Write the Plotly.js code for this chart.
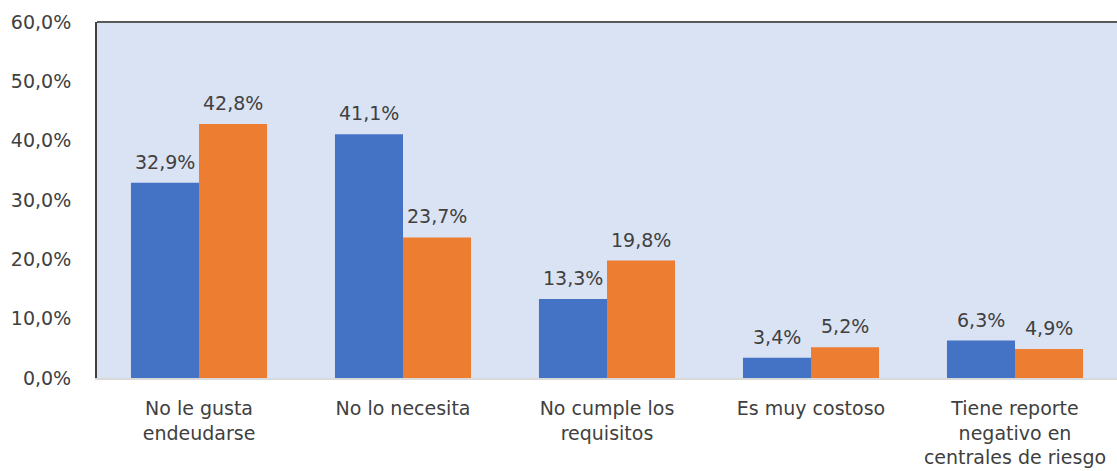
<!DOCTYPE html>
<html>
<head>
<meta charset="utf-8">
<script src="https://cdn.plot.ly/plotly-3.0.1.min.js"></script>
<style>html,body{margin:0;padding:0;background:#fff;}#chart{width:1117px;height:471px;}</style>
</head>
<body>
<div id="chart"></div>
<script>
const categories = ["No le gusta<br>endeudarse", "No lo necesita", "No cumple los<br>requisitos", "Es muy costoso", "Tiene reporte<br>negativo en<br>centrales de riesgo"];
const seriesA = [32.9, 41.1, 13.3, 3.4, 6.3];
const seriesB = [42.8, 23.7, 19.8, 5.2, 4.9];
const yTicks = [0, 10, 20, 30, 40, 50, 60];

const fmt = v => v.toFixed(1).replace('.', ',') + '%';
const font = {family: 'DejaVu Sans, sans-serif', size: 19, color: '#404040'};

const traces = [
  {type: 'bar', x: categories, y: seriesA, marker: {color: '#4472c4'}, name: 'A', hoverinfo: 'none'},
  {type: 'bar', x: categories, y: seriesB, marker: {color: '#ed7d31'}, name: 'B', hoverinfo: 'none'}
];

const annotations = [];
categories.forEach((c, i) => {
  annotations.push({x: c, y: seriesA[i], text: fmt(seriesA[i]), showarrow: false, xshift: -34, yanchor: 'bottom', yshift: 8, font: font});
  annotations.push({x: c, y: seriesB[i], text: fmt(seriesB[i]), showarrow: false, xshift: 34, yanchor: 'bottom', yshift: 8, font: font});
});

const layout = {
  width: 1117, height: 471,
  margin: {l: 97, r: 0, t: 22, b: 93},
  paper_bgcolor: '#ffffff',
  plot_bgcolor: '#dae3f3',
  showlegend: false,
  barmode: 'group',
  bargap: 0.333,
  bargroupgap: 0,
  font: font,
  xaxis: {
    type: 'category', showline: true, linecolor: '#d9d9d9', linewidth: 2,
    ticks: '', tickfont: font, showgrid: false, ticklabelstandoff: 12
  },
  yaxis: {
    range: [0, 60], tickvals: yTicks, ticktext: yTicks.map(fmt),
    showgrid: false, zeroline: false, showline: true, linecolor: '#404040', linewidth: 2,
    ticks: '', tickfont: font, automargin: false, ticklabelstandoff: 20
  },
  shapes: [
    {type: 'line', xref: 'paper', yref: 'paper', x0: 0, x1: 1, y0: 1, y1: 1, line: {color: '#595959', width: 2}}
  ],
  annotations: annotations
};

Plotly.newPlot('chart', traces, layout, {displayModeBar: false, staticPlot: true});
</script>
</body>
</html>
